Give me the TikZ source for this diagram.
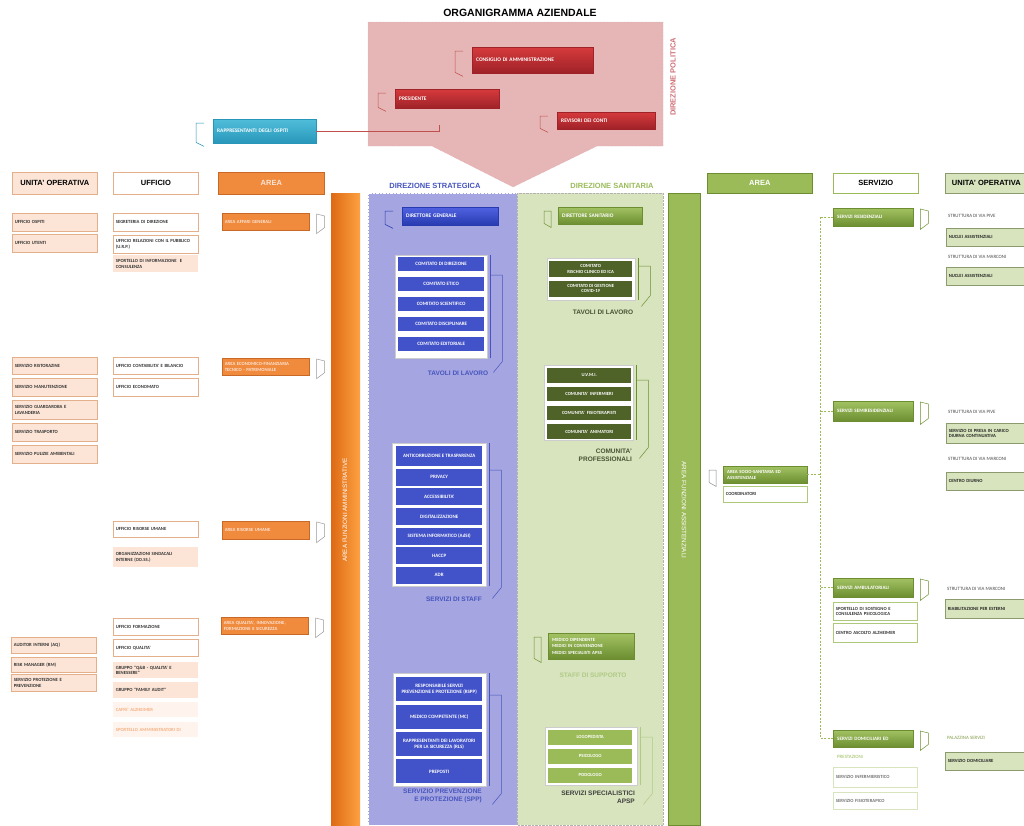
\documentclass[tikz,border=0pt]{standalone}
\usepackage{fontspec}
\setmainfont{Liberation Sans}
\newfontfamily\calfont{Carlito}
\usetikzlibrary{positioning}

\definecolor{peachF}{RGB}{252,228,214}
\definecolor{peachD}{RGB}{228,176,140}
\definecolor{paleO}{RGB}{244,177,131}
\definecolor{orangeA}{RGB}{240,138,60}
\definecolor{orangeD}{RGB}{200,105,40}
\definecolor{barL}{RGB}{222,105,20}
\definecolor{barR}{RGB}{253,162,66}
\definecolor{polF}{RGB}{230,182,183}
\definecolor{polT}{RGB}{208,112,120}
\definecolor{redT}{RGB}{214,58,60}
\definecolor{redB}{RGB}{158,34,40}
\definecolor{redL}{RGB}{192,80,77}
\definecolor{cyanT}{RGB}{80,190,218}
\definecolor{cyanB}{RGB}{40,150,185}
\definecolor{stratF}{RGB}{165,165,225}
\definecolor{stratT}{RGB}{70,85,190}
\definecolor{blueBx}{RGB}{66,82,200}
\definecolor{dgT}{RGB}{80,98,225}
\definecolor{dgB}{RGB}{40,58,175}
\definecolor{sanF}{RGB}{215,228,189}
\definecolor{sanT}{RGB}{155,187,89}
\definecolor{sanP}{RGB}{178,202,135}
\definecolor{grnT}{RGB}{162,194,98}
\definecolor{grnB}{RGB}{108,142,48}
\definecolor{olive}{RGB}{79,98,40}
\definecolor{oliveT}{RGB}{72,82,52}
\definecolor{uoD}{RGB}{140,155,110}

\newcommand\boxfont{\calfont\bfseries\fontsize{4.7}{5.6}\selectfont}
\newcommand\supfont{\calfont\bfseries\fontsize{4.7}{6.7}\selectfont}
\newcommand\cellfont{\calfont\bfseries\fontsize{5}{6.3}\selectfont}
\newcommand\bigcellfont{\calfont\bfseries\fontsize{5.4}{6.5}\selectfont}
\newcommand\headfont{\bfseries\fontsize{7.5}{9}\selectfont}
\newcommand\capfont{\bfseries\fontsize{6.5}{7.7}\selectfont}
\newcommand\barfont{\fontsize{6.3}{7}\selectfont}
\newcommand\viafont{\calfont\fontsize{4.9}{5.8}\selectfont}

% parentesi accanto ai box
\newcommand\lbrk[2]{\draw[#1] ([shift={(-9pt,-4pt)}]#2.north west) -- ([shift={(-17pt,-4pt)}]#2.north west) -- ([shift={(-17pt,1pt)}]#2.south west) -- ([shift={(-9pt,-3pt)}]#2.south west);}
\newcommand\lbrkc[2]{\draw[#1] ([shift={(-7pt,-4pt)}]#2.north west) -- ([shift={(-14pt,-4pt)}]#2.north west) -- ([shift={(-14pt,1pt)}]#2.south west) -- ([shift={(-7pt,-3pt)}]#2.south west) -- cycle;}
\newcommand\rbrk[2]{\draw[#1] ([shift={(7pt,-1pt)}]#2.north east) -- ([shift={(15pt,-3pt)}]#2.north east) -- ([shift={(15pt,3pt)}]#2.south east) -- ([shift={(7pt,-3pt)}]#2.south east) -- cycle;}
\newcommand\fbrk[4]{\draw[#1] ([xshift=3pt]#2.north east) -- ([xshift=3pt]#2.south east);
  \draw[#1] ([shift={(3pt,#3)}]#2.north east) -- ([shift={(15pt,#3)}]#2.north east) -- ([shift={(15pt,#4)}]#2.south east) -- ([shift={(6pt,#4-11pt)}]#2.south east);}

\begin{document}
\begin{tikzpicture}[x=1pt,y=-1pt]
  \tikzset{cell/.style={anchor=north west, inner xsep=2.5pt, inner ysep=0pt, align=left, font=\boxfont, text=black!80, line width=0.6pt, text width=80pt}}
  \tikzset{uo/.style={cell, fill=peachF, draw=peachD}, uff/.style={cell, fill=white, draw=peachD}}
  \tikzset{soft/.style={cell, fill=peachF}, pale/.style={cell, fill=peachF!45, text=paleO}}
  \tikzset{area/.style={cell, fill=orangeA, draw=orangeD, text=peachF, text width=82pt}}
  \tikzset{hdr/.style={anchor=north west, font=\headfont, inner sep=0pt, line width=0.7pt}}
  \tikzset{grad/.style={anchor=north west, inner xsep=4pt, inner ysep=0pt, align=left, font=\bigcellfont, text=white}}
  \tikzset{redbox/.style={grad, top color=redT, bottom color=redB, draw=redB}, cyanbox/.style={grad, top color=cyanT, bottom color=cyanB, draw=cyanB}}
  \tikzset{dgbox/.style={grad, top color=dgT, bottom color=dgB, draw=dgB}, grnbox/.style={grad, top color=grnT, bottom color=grnB, draw=grnB, font=\cellfont}}
  \tikzset{frame/.style={anchor=north west, fill=white, draw=black!20, inner sep=0pt}}
  \tikzset{bcell/.style={anchor=north west, fill=blueBx, text=white, font=\cellfont, align=center, inner sep=0pt, minimum width=86pt, minimum height=17pt}}
  \tikzset{ocell/.style={anchor=north west, fill=olive, text=white, font=\boxfont, align=center, inner sep=0pt, minimum width=84pt, minimum height=14.5pt}}
  \tikzset{lcell/.style={ocell, fill=sanT}}
  \tikzset{ruo/.style={cell, fill=sanF, draw=uoD, text=black!85}, gcell/.style={cell, fill=white, draw=sanT!80, text width=79pt}}
  \tikzset{via/.style={anchor=west, font=\viafont, text=black!70, inner sep=0pt}}
  \tikzset{brk/.style={draw=black!40, line width=0.5pt}, dline/.style={draw=sanT, line width=0.5pt, dash pattern=on 2pt off 1.5pt}}
  \useasboundingbox (0,0) rectangle (1024,825);
  \fill[white] (0,0) rectangle (1024,825);

  % direzione politica
  \draw[fill=polF, draw=polT!70, densely dotted] (368,22) -- (663,22) -- (663,146) -- (597,146) -- (513,187) -- (432,146) -- (368,146) -- cycle;
  \node[font=\bfseries\fontsize{10.5}{12}\selectfont] (titolo) at (520,13) {ORGANIGRAMMA AZIENDALE};
  \node[rotate=90, font=\headfont, text=polT] (dpol) at (673,77) {DIREZIONE POLITICA};
  \node[redbox, text width=113pt, minimum height=26pt] (cda) at (472,47) {CONSIGLIO DI AMMINISTRAZIONE};
  \node[redbox, text width=96pt, minimum height=19pt] (pres) at (395,89) {PRESIDENTE};
  \node[redbox, text width=90pt, minimum height=17pt] (rev) at (557,112) {REVISORI DEI CONTI};
  \node[cyanbox, text width=95pt, minimum height=24pt] (rdo) at (213,119) {RAPPRESENTANTI DEGLI OSPITI};
  \lbrk{brk, draw=redL}{cda}
  \lbrk{brk, draw=redL}{pres}
  \lbrk{brk, draw=redL}{rev}
  \lbrk{brk, draw=cyanB}{rdo}
  \coordinate (rdoEnd) at (439,125);
  \draw[redL, line width=0.6pt] (rdo.east) -| (rdoEnd);

  % colonne
  \shade[left color=barL, right color=barR] (331,193) rectangle (360,825);
  \draw[fill=stratF, draw=white, densely dotted] (368,193) rectangle (517,825);
  \draw[fill=sanF, draw=black!30, densely dotted] (517,193) rectangle (663,825);
  \draw[fill=sanT, draw=grnB] (668,193) rectangle (700,825);
  \node[rotate=90, text=white, font=\barfont] (afa) at (345,510) {AREA FUNZIONI AMMINISTRATIVE};
  \node[rotate=-90, text=white, font=\barfont] (afs) at (684,510) {AREA FUNZIONI ASSISTENZIALI};

  % intestazioni
  \node[hdr, fill=peachF, draw=peachD, minimum width=85pt, minimum height=22pt] (h1) at (12,172) {UNITA' OPERATIVA};
  \node[hdr, fill=white, draw=peachD, minimum width=85pt, minimum height=22pt] (h2) at (113,172) {UFFICIO};
  \node[hdr, fill=orangeA, draw=orangeD, text=peachF, minimum width=106pt, minimum height=22pt] (h3) at (218,172) {AREA};
  \node[font=\headfont, text=stratT] (hstr) at (435,186) {DIREZIONE STRATEGICA};
  \node[font=\headfont, text=sanT] (hsan) at (612,186) {DIREZIONE SANITARIA};
  \node[hdr, fill=sanT, draw=grnB, text=white, minimum width=105pt, minimum height=20pt] (h4) at (707,173) {AREA};
  \node[hdr, fill=white, draw=sanT, minimum width=85pt, minimum height=20pt] (h5) at (833,173) {SERVIZIO};
  \node[hdr, fill=sanF, draw=uoD, minimum width=82pt, minimum height=20pt] (h6) at (945,173) {UNITA' OPERATIVA};

  % area amministrativa
  \node[uo, minimum height=18pt] (uo1) at (12,213) {UFFICIO OSPITI};
  \node[uo, minimum height=18pt] (uo2) at (12,234) {UFFICIO UTENTI};
  \node[uo, minimum height=17pt] (uo3) at (12,357) {SERVIZIO RISTORAZINE};
  \node[uo, minimum height=18pt] (uo4) at (12,378) {SERVIZIO MANUTENZIONE};
  \node[uo, minimum height=19pt] (uo5) at (12,400) {SERVIZIO GUARDAROBA E\\LAVANDERIA};
  \node[uo, minimum height=18pt] (uo6) at (12,423) {SERVIZIO TRASPORTO};
  \node[uo, minimum height=18pt] (uo7) at (12,445) {SERVIZIO PULIZIE AMBIENTALI};
  \node[uo, minimum height=16pt] (uo8) at (11,637) {AUDITOR INTERNI (AQ)};
  \node[uo, minimum height=15pt] (uo9) at (11,657) {RISK MANAGER (RM)};
  \node[uo, minimum height=17pt] (uo10) at (11,674) {SERVIZIO PROTEZIONE E\\PREVENZIONE};

  \node[uff, minimum height=18pt] (uf1) at (113,213) {SEGRETERIA DI DIREZIONE};
  \node[uff, minimum height=18pt] (uf2) at (113,235) {UFFICIO RELAZIONI CON IL PUBBLICO\\(U.R.P.)};
  \node[soft, minimum height=17pt] (uf3) at (113,255) {SPORTELLO DI INFORMAZIONE\ \ E\\CONSULENZA};
  \node[uff, minimum height=17pt] (uf4) at (113,357) {UFFICIO CONTABILITA' E BILANCIO};
  \node[uff, minimum height=18pt] (uf5) at (113,378) {UFFICIO ECONOMATO};
  \node[uff, minimum height=16pt] (uf6) at (113,521) {UFFICIO RISORSE UMANE};
  \node[soft, minimum height=20pt] (uf7) at (113,547) {ORGANIZZAZIONI SINDACALI\\INTERNE (OO.SS.)};
  \node[uff, minimum height=17pt] (uf8) at (113,618) {UFFICIO FORMAZIONE};
  \node[uff, minimum height=17pt] (uf9) at (113,639) {UFFICIO QUALITA'};
  \node[soft, minimum height=16pt] (uf10) at (113,662) {GRUPPO "Q\&B - QUALITA' E\\BENESSERE"};
  \node[soft, minimum height=16pt] (uf11) at (113,682) {GRUPPO "FAMILY AUDIT"};
  \node[pale, minimum height=15pt] (uf12) at (113,702) {CAFFE' ALZHEIMER};
  \node[pale, minimum height=15pt] (uf13) at (113,722) {SPORTELLO AMMINISTRATORI DI};

  \node[area, minimum height=17pt] (ar1) at (222,213) {AREA AFFARI GENERALI};
  \node[area, minimum height=17pt] (ar2) at (222,358) {AREA ECONOMICO-FINANZIARIA\\TECNICO - PATRIMONIALE};
  \node[area, minimum height=18pt] (ar3) at (222,521) {AREA RISORSE UMANE};
  \node[area, minimum height=17pt] (ar4) at (221,617) {AREA QUALITA', INNOVAZIONE,\\FORMAZIONE E SICUREZZA};
  \rbrk{brk}{ar1}
  \rbrk{brk}{ar2}
  \rbrk{brk}{ar3}
  \rbrk{brk}{ar4}

  % direzione strategica
  \node[dgbox, text width=88pt, minimum height=18pt] (dg) at (402,207) {DIRETTORE GENERALE};
  \lbrk{brk, draw=dgB}{dg}
  \node[frame, minimum width=92pt, minimum height=103pt] (tavS) at (395,255) {};
  \node[bcell, minimum height=14pt] (c1) at (398,257) {COMITATO DI DIREZIONE};
  \node[bcell, minimum height=14pt, below=5.5pt of c1] (c2) {COMITATO ETICO};
  \node[bcell, minimum height=14pt, below=5.5pt of c2] (c3) {COMITATO SCIENTIFICO};
  \node[bcell, minimum height=14pt, below=5.5pt of c3] (c4) {COMITATO DISCIPLINARE};
  \node[bcell, minimum height=14pt, below=5.5pt of c4] (c5) {COMITATO EDITORIALE};
  \fbrk{brk, draw=stratT}{tavS}{-20pt}{-3pt}
  \node[font=\capfont, text=stratT] (tavSl) at (458,373) {TAVOLI DI LAVORO};

  \node[frame, minimum width=94pt, minimum height=143pt] (staff) at (392,443) {};
  \node[bcell, minimum height=20pt] (s1) at (396,446) {ANTICORRUZIONE E TRASPARENZA};
  \node[bcell, below=2.2pt of s1] (s2) {PRIVACY};
  \node[bcell, below=2.2pt of s2] (s3) {ACCESSIBILITA'};
  \node[bcell, below=2.2pt of s3] (s4) {DIGITALIZZAZIONE};
  \node[bcell, below=2.2pt of s4] (s5) {SISTEMA INFORMATICO (AdSI)};
  \node[bcell, below=2.2pt of s5] (s6) {HACCP};
  \node[bcell, below=2.2pt of s6] (s7) {ADR};
  \fbrk{brk, draw=stratT}{staff}{-27pt}{-1pt}
  \node[font=\capfont, text=stratT] (staffl) at (454,599) {SERVIZI DI STAFF};

  \node[frame, minimum width=93pt, minimum height=113pt] (spp) at (393,673) {};
  \node[bcell, minimum height=24pt] (p1) at (396,677) {RESPONSABILE SERVIZI\\PREVENZIONE E PROTEZIONE (RSPP)};
  \node[bcell, minimum height=24pt, below=3pt of p1] (p2) {MEDICO COMPETENTE (MC)};
  \node[bcell, minimum height=24pt, below=3pt of p2] (p3) {RAPPRESENTANTI DEI LAVORATORI\\PER LA SICUREZZA (RLS)};
  \node[bcell, minimum height=24pt, below=3pt of p3] (p4) {PREPOSTI};
  \fbrk{brk, draw=stratT}{spp}{-22pt}{-7pt}
  \node[font=\capfont, text=stratT, anchor=north east, align=right, inner sep=0pt] (sppl) at (482,789) {SERVIZIO PREVENZIONE\\E PROTEZIONE (SPP)};

  % direzione sanitaria
  \node[grnbox, font=\bigcellfont, text width=76pt, minimum height=17pt] (ds) at (558,207) {DIRETTORE SANITARIO};
  \lbrkc{brk, draw=grnB}{ds}
  \node[frame, minimum width=88pt, minimum height=42pt] (tavG) at (547,258) {};
  \node[ocell, minimum width=83pt, minimum height=16pt] (g1) at (549,261) {COMITATO\\RISCHIO CLINICO ED ICA};
  \node[ocell, minimum width=83pt, minimum height=16pt, below=3pt of g1] (g2) {COMITATO DI GESTIONE\\COVID-19};
  \fbrk{brk, draw=grnB}{tavG}{-8pt}{5pt}
  \node[font=\capfont, text=oliveT] (tavGl) at (603,312) {TAVOLI DI LAVORO};

  \node[frame, minimum width=89pt, minimum height=75pt] (com) at (544,365) {};
  \node[ocell] (k1) at (547,368) {U.V.M.I.};
  \node[ocell, below=3.8pt of k1] (k2) {COMUNITA'\ \ INFERMIERI};
  \node[ocell, below=3.8pt of k2] (k3) {COMUNITA'\ \ FISIOTERAPISTI};
  \node[ocell, below=3.8pt of k3] (k4) {COMUNITA'\ \ ANIMATORI};
  \fbrk{brk, draw=grnB}{com}{-15pt}{-7pt}
  \node[font=\capfont, text=oliveT, anchor=north east, align=right, inner sep=0pt] (coml) at (632,449) {COMUNITA'\\PROFESSIONALI};

  \node[grnbox, font=\supfont, text width=78pt, minimum height=26pt] (sup) at (548,633) {MEDICO DIPENDENTE\\MEDICI IN CONVENZIONE\\MEDICI SPECIALISTI APSS};
  \lbrkc{brk, draw=grnB}{sup}
  \node[font=\capfont, text=sanP] (supl) at (593,675) {STAFF DI SUPPORTO};

  \node[frame, minimum width=92pt, minimum height=58pt] (spec) at (545,727) {};
  \node[lcell] (l1) at (548,730) {LOGOPEDISTA};
  \node[lcell, below=4pt of l1] (l2) {PSICOLOGO};
  \node[lcell, below=4pt of l2] (l3) {PODOLOGO};
  \fbrk{brk, draw=sanP}{spec}{-10pt}{-8pt}
  \node[font=\capfont, text=black!75, anchor=north east, align=right, inner sep=0pt] (specl) at (635,791) {SERVIZI SPECIALISTICI\\APSP};

  % area assistenziale
  \node[grnbox, font=\boxfont, text width=76pt, minimum height=17pt] (asoc) at (723,466) {AREA SOCIO-SANITARIA ED\\ASSISTENZIALE};
  \lbrkc{brk, draw=black!45}{asoc}
  \node[gcell, minimum height=16pt] (coord) at (723,486) {COORDINATORI};

  \node[grnbox, text width=72pt, minimum height=18pt] (sv1) at (833,208) {SERVIZI RESIDENZIALI};
  \node[grnbox, text width=72pt, minimum height=20pt] (sv2) at (833,401) {SERVIZI SEMIRESIDENZIALI};
  \node[grnbox, text width=72pt, minimum height=19pt] (sv3) at (833,578) {SERVIZI AMBULATORIALI};
  \node[grnbox, text width=72pt, minimum height=17pt] (sv4) at (833,730) {SERVIZI DOMICILIARI ED};
  \rbrk{brk, draw=grnB}{sv1}
  \rbrk{brk, draw=grnB}{sv2}
  \rbrk{brk, draw=grnB}{sv3}
  \rbrk{brk, draw=grnB}{sv4}

  \draw[dline] (sv1.west) -- ++(-13,0) coordinate (j1);
  \draw[dline] (sv2.west) -- ++(-13,0);
  \draw[dline] (sv3.west) -- ++(-13,0);
  \draw[dline] (sv4.west) -- ++(-13,0) coordinate (j4);
  \draw[dline] (j1) -- (j4);
  \draw[dline] (asoc.east) -- (asoc.east -| j1);

  \node[gcell, minimum height=18pt] (sb1) at (833,602) {SPORTELLO DI SOSTEGNO E\\CONSULENZA PSICOLOGICA};
  \node[gcell, minimum height=19pt] (sb2) at (833,623) {CENTRO ASCOLTO ALZHEIMER};
  \node[via, text=sanT] (prest) at (837,757) {PRESTAZIONI};
  \node[gcell, draw=sanF, text=black!55, minimum height=20pt] (sb3) at (833,767) {SERVIZIO INFERMIERISTICO};
  \node[gcell, draw=sanF, text=black!55, minimum height=17pt] (sb4) at (833,792) {SERVIZIO FISIOTERAPICO};

  \node[via] (v1) at (948,216) {STRUTTURA DI VIA PIVE};
  \node[ruo, minimum height=18pt] (ru1) at (946,228) {NUCLEI ASSISTENZIALI};
  \node[via] (v2) at (948,257) {STRUTTURA DI VIA MARCONI};
  \node[ruo, minimum height=18pt] (ru2) at (946,267) {NUCLEI ASSISTENZIALI};
  \node[via] (v3) at (948,412) {STRUTTURA DI VIA PIVE};
  \node[ruo, minimum height=20pt] (ru3) at (946,423) {SERVIZIO DI PRESA IN CARICO\\DIURNA CONTINUATIVA};
  \node[via] (v4) at (948,459) {STRUTTURA DI VIA MARCONI};
  \node[ruo, minimum height=18pt] (ru4) at (946,472) {CENTRO DIURNO};
  \node[via] (v5) at (947,589) {STRUTTURA DI VIA MARCONI};
  \node[ruo, minimum height=19pt] (ru5) at (945,599) {RIABILITAZIONE PER ESTERNI};
  \node[via, text=sanT!85!black] (v6) at (947,738) {PALAZZINA SERVIZI};
  \node[ruo, minimum height=18pt] (ru6) at (945,752) {SERVIZIO DOMICILIARE};
\end{tikzpicture}
\end{document}
